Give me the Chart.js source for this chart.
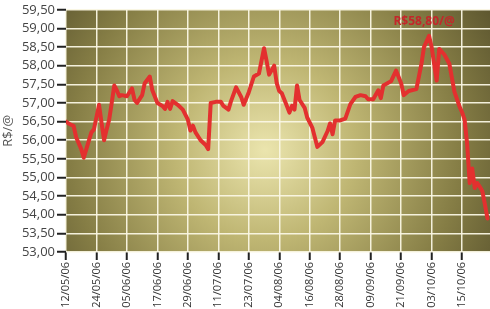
<!DOCTYPE html>
<html>
<head>
<meta charset="utf-8">
<script src="https://cdn.jsdelivr.net/npm/chart.js@4/dist/chart.umd.min.js"></script>
<style>
  body { margin: 0; background: #fff; }
  #wrap { width: 490px; height: 309px; }
</style>
</head>
<body>
<div id="wrap"><canvas id="precoChart"></canvas></div>
<script>
// dias contados a partir de 12/05/06
var days = [0, 1, 3, 4, 6, 7, 8, 10, 11, 13, 14, 15, 16, 17, 18, 19, 20, 21, 22, 24,
  26, 27, 28, 30, 31, 33, 34, 36, 38, 39, 40, 41, 42, 44, 46, 48, 49, 50, 51, 53,
  55, 56, 57, 59, 61, 62, 64, 65, 67, 69, 70, 72, 74, 76, 78, 79, 80, 82, 83, 84,
  85, 87, 88, 89, 90, 91, 92, 94, 95, 97, 98, 99, 101, 103, 104, 105, 106, 108, 110, 112,
  114, 116, 118, 119, 121, 123, 124, 125, 128, 130, 132, 133, 135, 138, 140, 141, 143, 144, 145, 146,
  147, 149, 151, 153, 154, 155, 156, 157, 158, 159, 160, 161, 162, 163, 164, 165, 166];

// preco R$/@
var prices = [56.50, 56.45, 56.38, 56.08, 55.76, 55.53, 55.76, 56.21, 56.29, 56.95, 56.47, 56.00, 56.29, 56.55, 57.00, 57.47, 57.34, 57.18, 57.21, 57.18,
  57.39, 57.08, 57.00, 57.21, 57.53, 57.71, 57.34, 57.00, 56.92, 56.84, 57.03, 56.84, 57.05, 56.95, 56.82, 56.55, 56.26, 56.39, 56.21, 56.00,
  55.87, 55.76, 57.00, 57.03, 57.03, 56.92, 56.82, 57.05, 57.42, 57.16, 56.95, 57.29, 57.71, 57.79, 58.47, 58.13, 57.76, 58.00, 57.53, 57.32,
  57.26, 56.92, 56.74, 56.92, 56.82, 57.47, 57.08, 56.87, 56.61, 56.34, 56.08, 55.82, 55.95, 56.24, 56.45, 56.16, 56.53, 56.53, 56.58, 56.97,
  57.16, 57.21, 57.18, 57.10, 57.10, 57.34, 57.13, 57.47, 57.58, 57.87, 57.53, 57.21, 57.32, 57.37, 58.05, 58.50, 58.80, 58.50, 58.05, 57.60,
  58.45, 58.30, 58.05, 57.30, 57.10, 56.90, 56.75, 56.55, 55.90, 54.85, 55.24, 54.72, 54.85, 54.75, 54.63, 54.28, 53.90];

var xTickLabels = ['12/05/06', '24/05/06', '05/06/06', '17/06/06', '29/06/06', '11/07/06', '23/07/06',
  '04/08/06', '16/08/06', '28/08/06', '09/09/06', '21/09/06', '03/10/06', '15/10/06'];

var peakDay = 143;
var peakLabel = 'R$58,80/@';

var points = days.map(function(d, i) { return { x: d, y: prices[i] }; });

// fundo com degrade radial
var bgPlugin = {
  id: 'bgGradient',
  beforeDraw: function(chart) {
    var a = chart.chartArea, ctx = chart.ctx;
    var cx = a.left + (a.right - a.left) * 0.47;
    var cy = a.top + (a.bottom - a.top) * 0.58;
    var g = ctx.createRadialGradient(cx, cy, 0, cx, cy, 300);
    g.addColorStop(0, '#ebe5ae');
    g.addColorStop(0.3, '#bfb673');
    g.addColorStop(0.65, '#857d45');
    g.addColorStop(1, '#4a4425');
    ctx.save();
    ctx.fillStyle = g;
    ctx.fillRect(a.left, a.top, a.right - a.left, a.bottom - a.top);
    ctx.restore();
  }
};

// texto do pico
var peakPlugin = {
  id: 'peakText',
  afterDatasetsDraw: function(chart) {
    var ctx = chart.ctx;
    var x = chart.scales.x.getPixelForValue(peakDay) - 5;
    var y = chart.scales.y.getPixelForValue(58.80) - 14;
    ctx.save();
    ctx.font = 'bold 12px "Open Sans"';
    ctx.fillStyle = '#c4262a';
    ctx.textAlign = 'center';
    ctx.textBaseline = 'middle';
    ctx.fillText(peakLabel, x, y);
    ctx.restore();
  }
};

var ctx = document.getElementById('precoChart').getContext('2d');
var chart = new Chart(ctx, {
  type: 'line',
  data: {
    datasets: [{
      data: points,
      borderColor: '#e3302f',
      borderWidth: 4,
      borderJoinStyle: 'round',
      borderCapStyle: 'round',
      pointRadius: 0,
      tension: 0
    }]
  },
  options: {
    responsive: true,
    maintainAspectRatio: false,
    animation: false,
    layout: { padding: { top: 5, right: 0, left: 0, bottom: 0 } },
    plugins: { legend: { display: false }, tooltip: { enabled: false } },
    scales: {
      x: {
        type: 'linear',
        min: 0,
        max: 167,
        afterBuildTicks: function(scale) {
          scale.ticks = scale.ticks.filter(function(t) { return t.value % 12 === 0; });
        },
        afterFit: function(scale) { scale.height = 57; },
        ticks: {
          stepSize: 12,
          minRotation: 90,
          maxRotation: 90,
          padding: 2,
          color: '#333',
          font: { family: 'Open Sans', size: 11 },
          callback: function(v) { return xTickLabels[v / 12]; }
        },
        grid: {
          color: 'rgba(250,247,228,0.95)',
          lineWidth: 1.5,
          tickColor: '#222',
          tickLength: 8,
          tickWidth: 2
        },
        border: { display: false }
      },
      y: {
        min: 53,
        max: 59.5,
        afterFit: function(scale) { scale.width = 66; },
        ticks: {
          stepSize: 0.5,
          padding: 2,
          color: '#444',
          font: { family: 'Open Sans', size: 13 },
          callback: function(v) { return v.toFixed(2).replace('.', ','); }
        },
        title: {
          display: true,
          text: 'R$/@',
          color: '#555',
          padding: 0,
          font: { family: 'Open Sans', size: 13 }
        },
        grid: {
          color: 'rgba(250,247,228,0.95)',
          lineWidth: 1.5,
          tickColor: '#222',
          tickLength: 9,
          tickWidth: 2
        },
        border: { display: false }
      }
    }
  },
  plugins: [bgPlugin, peakPlugin]
});
</script>
</body>
</html>
